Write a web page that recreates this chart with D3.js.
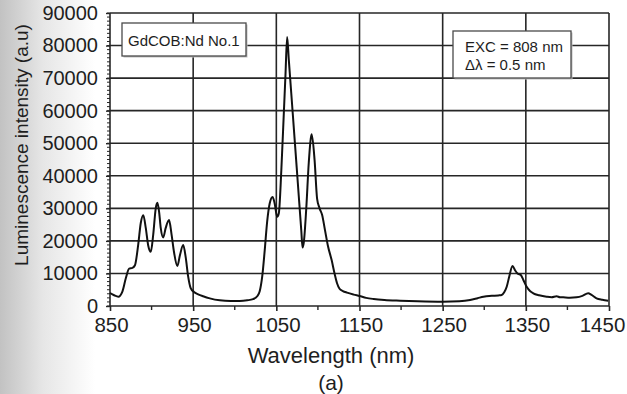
<!DOCTYPE html>
<html>
<head>
<meta charset="utf-8">
<script src="https://cdn.jsdelivr.net/npm/d3@7/dist/d3.min.js"></script>
<style>
  html, body { margin: 0; padding: 0; background: #fff; }
  svg { display: block; }
  text { font-family: "Liberation Sans", Arial, Helvetica, sans-serif; fill: #1e1e1e; }
</style>
</head>
<body>
<svg id="chart" width="627" height="394"></svg>
<script>
// Emission spectrum of GdCOB:Nd (sample No.1), excitation at 808 nm
const wavelength = [
  850, 855, 860, 865, 869, 873, 877, 880, 884, 887, 890, 893, 896, 899, 902, 905, 907, 909, 911, 914,
  917, 921, 924, 927, 931, 934, 938, 941, 944, 947, 951, 956, 962, 970, 982, 995, 1006, 1015, 1022, 1027,
  1030, 1033, 1036, 1039, 1042, 1045.5, 1048, 1051, 1053, 1056, 1059, 1061, 1063, 1065, 1068, 1071, 1074.5, 1077, 1080, 1081.5,
  1083, 1086, 1089, 1092.5, 1096, 1099, 1102, 1105, 1108.5, 1112, 1116.5, 1120, 1123, 1126, 1130, 1135, 1143, 1150, 1158, 1167,
  1180, 1199, 1220, 1250, 1270, 1283, 1292, 1299, 1306, 1311, 1317, 1321, 1324, 1327, 1330, 1334, 1337, 1340, 1344, 1347,
  1351, 1355, 1359, 1366, 1375, 1381, 1387, 1391, 1395, 1403, 1411, 1418, 1425, 1429, 1435, 1442, 1449
];
const intensity = [
  4000, 3300, 2850, 4500, 8500, 11500, 11700, 12500, 19000, 25500, 27900, 24000, 18500, 16650, 22000, 30000, 31700, 29000, 24000, 21070,
  24000, 26380, 22000, 16500, 12270, 15500, 18710, 15000, 9000, 5500, 4300, 3600, 3000, 2350, 1750, 1550, 1550, 1750, 2100, 3000,
  4500, 9000, 17000, 26000, 31500, 33500, 31500, 27400, 28500, 41700, 59200, 71000, 82600, 75600, 65200, 54700, 42500, 33700, 23200, 18000,
  19500, 30000, 44000, 52760, 44800, 33000, 30000, 28000, 23300, 18500, 14100, 10000, 7000, 5300, 4600, 4100, 3500, 3070, 2500, 2150,
  1850, 1630, 1450, 1320, 1450, 1840, 2400, 2850, 3100, 3160, 3250, 3370, 4200, 5900, 9000, 12270, 11000, 10000, 9500, 8000,
  5900, 4600, 3900, 3300, 2850, 2700, 3000, 2700, 2650, 2550, 2660, 3100, 3900, 3400, 2350, 1900, 1630
];
const xTicks = [850, 950, 1050, 1150, 1250, 1350, 1450];
const yTicks = [0, 10000, 20000, 30000, 40000, 50000, 60000, 70000, 80000, 90000];
const sampleLabel = "GdCOB:Nd No.1";
const conditionLines = ["EXC = 808 nm", "\u0394\u03bb = 0.5 nm"];
const xTitle = "Wavelength (nm)";
const yTitle = "Luminescence intensity (a.u)";
const panelLabel = "(a)";

const svg = d3.select("#chart");
const W = 627, H = 394;
const m = { left: 110, right: 18, top: 13, bottom: 88 };
const plotW = W - m.left - m.right;
const plotH = H - m.top - m.bottom;

// soft page shading along the left edge
const defs = svg.append("defs");
const grad = defs.append("linearGradient").attr("id", "shade").attr("x1", 0).attr("x2", 1).attr("y1", 0).attr("y2", 0);
grad.append("stop").attr("offset", "0%").attr("stop-color", "#c2c2c2");
grad.append("stop").attr("offset", "45%").attr("stop-color", "#e6e6e6");
grad.append("stop").attr("offset", "100%").attr("stop-color", "#ffffff");
svg.append("rect").attr("width", W).attr("height", H).attr("fill", "#fff");
svg.append("rect").attr("width", 95).attr("height", H).attr("fill", "url(#shade)");

const x = d3.scaleLinear().domain([850, 1450]).range([m.left, m.left + plotW]);
const y = d3.scaleLinear().domain([0, 90000]).range([m.top + plotH, m.top]);

const ink = "#262626";

// grid
const grid = svg.append("g").attr("stroke", ink).attr("stroke-width", 1.6);
grid.selectAll("line.h").data(yTicks).join("line")
  .attr("x1", x(850)).attr("x2", x(1450))
  .attr("y1", d => y(d)).attr("y2", d => y(d));
grid.selectAll("line.v").data(xTicks).join("line")
  .attr("y1", y(0)).attr("y2", y(90000))
  .attr("x1", d => x(d)).attr("x2", d => x(d));

// minor ticks on the y axis
const yMinor = d3.range(0, 90001, 1250);
svg.append("g").attr("stroke", ink).attr("stroke-width", 1)
  .selectAll("line").data(yMinor).join("line")
  .attr("x1", x(850) - 3).attr("x2", x(850))
  .attr("y1", d => y(d)).attr("y2", d => y(d));

// axes
const xAxis = d3.axisBottom(x).tickValues(xTicks).tickSize(5).tickPadding(6).tickFormat(d3.format("d"));
const gx = svg.append("g").attr("transform", `translate(0,${y(0)})`).call(xAxis);
gx.select(".domain").remove();
gx.selectAll(".tick line").attr("stroke", ink).attr("stroke-width", 1.6);
gx.selectAll(".tick text").attr("font-size", 20.5).attr("fill", "#1e1e1e")
  .attr("font-family", "Liberation Sans, Arial, sans-serif")
  // the last label is pulled inward so it stays on the page
  .attr("dx", d => d === 1450 ? -7 : 1);
// minor ticks between x grid lines
const xMinor = d3.range(900, 1450, 100);
svg.append("g").attr("stroke", ink).attr("stroke-width", 1.4)
  .selectAll("line").data(xMinor).join("line")
  .attr("x1", d => x(d)).attr("x2", d => x(d))
  .attr("y1", y(0)).attr("y2", y(0) + 4);

const yAxis = d3.axisLeft(y).tickValues(yTicks).tickSize(4).tickPadding(8).tickFormat(d3.format("d"));
const gy = svg.append("g").attr("transform", `translate(${x(850)},0)`).call(yAxis);
gy.select(".domain").remove();
gy.selectAll(".tick line").attr("stroke", ink).attr("stroke-width", 1.4);
gy.selectAll(".tick text").attr("font-size", 20).attr("fill", "#1e1e1e")
  .attr("font-family", "Liberation Sans, Arial, sans-serif");

// spectrum
const pts = wavelength.map((w, i) => [w, intensity[i]]);
const line = d3.line().x(d => x(d[0])).y(d => y(d[1])).curve(d3.curveMonotoneX);
svg.append("path").datum(pts)
  .attr("d", line)
  .attr("fill", "none")
  .attr("stroke", "#111")
  .attr("stroke-width", 2)
  .attr("stroke-linejoin", "round");

// boxed annotations
function labelBox(bx, by, bw, bh) {
  svg.append("rect").attr("x", bx + 1.5).attr("y", by + 1.5).attr("width", bw).attr("height", bh)
    .attr("fill", "#bdbdbd");
  svg.append("rect").attr("x", bx).attr("y", by).attr("width", bw).attr("height", bh)
    .attr("fill", "#fff").attr("stroke", "#4a4a4a").attr("stroke-width", 1.3);
}
labelBox(122, 23, 124, 33);
svg.append("text").attr("x", 128).attr("y", 46).attr("font-size", 15).text(sampleLabel);

labelBox(453, 31, 118, 47);
svg.append("text").selectAll("tspan").data(conditionLines).join("tspan")
  .attr("x", 465).attr("y", (d, i) => 52 + i * 18).attr("font-size", 15).text(d => d);

// axis titles
svg.append("text").attr("x", 331).attr("y", 363).attr("text-anchor", "middle")
  .attr("font-size", 22).text(xTitle);
svg.append("text").attr("x", 331).attr("y", 390).attr("text-anchor", "middle")
  .attr("font-size", 21).text(panelLabel);
svg.append("text")
  .attr("transform", `translate(28,${145}) rotate(-90)`)
  .attr("text-anchor", "middle").attr("font-size", 19).text(yTitle);
</script>
</body>
</html>
